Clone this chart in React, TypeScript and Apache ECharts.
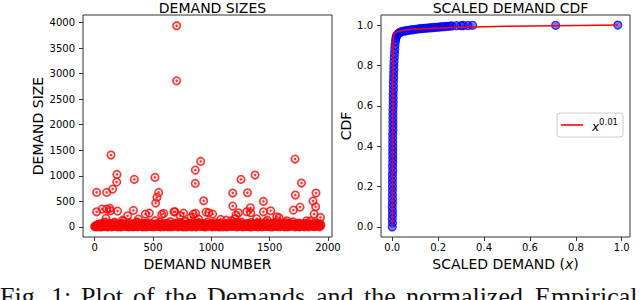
import React, { useEffect, useRef } from "react";
import * as echarts from "echarts";

// ---------- LEFT PANEL DATA ----------
// visible outliers [demand number, demand size]
const demandOutliers: [number, number][] = [
  [703, 3940], [703, 2860], [140, 1406], [191, 1027], [189, 876], [154, 739], [103, 674], [17, 674],
  [340, 929], [517, 968], [549, 674], [534, 576], [523, 464], [935, 510], [863, 1111], [863, 850], [909, 1282],
  [17, 294], [63, 347], [103, 347], [131, 360], [135, 314], [197, 308], [332, 321], [435, 249], [469, 268],
  [575, 243], [592, 262], [689, 294], [763, 268], [846, 249], [375, 151], [283, 216], [240, 131], [97, 164],
  [732, 216], [826, 184], [892, 151], [955, 288], [1718, 1327], [1773, 857], [1721, 622], [1761, 386],
  [1704, 327], [1375, 1014], [1255, 929], [1310, 667], [1184, 661], [1184, 406], [1447, 498], [1335, 373],
  [1304, 294], [1338, 275], [1232, 275], [1447, 294], [1509, 314], [1561, 196], [1581, 176], [1898, 661],
  [1872, 504], [1895, 392], [1881, 249], [1936, 184], [978, 275], [1012, 249], [1081, 145], [1203, 157],
  [1647, 118], [1818, 118], [1389, 157], [1481, 131], [1212, 229], [1129, 131], [866, 262], [680, 294],
];
// low demands, sampled every 10th demand number (0, 10, 20, ... 1940)
const lowDemandStep = 10;
const lowDemandsA: number[] = [
  5, 20, 0, 45, 10, 60, 2, 30, 85, 15,
  40, 0, 70, 25, 55, 8, 35, 90, 12, 48,
  0, 22, 65, 5, 38, 110, 18, 50, 3, 28,
  75, 10, 42, 0, 58, 20, 95, 6, 33, 52,
  14, 0, 68, 26, 44, 4, 80, 30, 12, 60,
  0, 35, 120, 18, 50, 7, 88, 24, 40, 2,
  62, 15, 30, 0, 45, 100, 20, 55, 9, 70,
  25, 40, 5, 85, 16, 58, 0, 36, 105, 22,
  48, 3, 66, 28, 12, 90, 40, 0, 54, 18,
  75, 30, 8, 46, 0, 62, 20, 95, 34, 10,
  56, 0, 38, 80, 14, 44, 4, 68, 26, 50,
  0, 32, 12, 58, 22, 6, 40, 115, 18, 64,
  28, 46, 0, 72, 35, 10, 90, 20, 52, 4,
  38, 66, 15, 0, 84, 30, 48, 8, 60, 24,
  0, 42, 78, 18, 55, 6, 34, 100, 14, 50,
  26, 0, 62, 40, 10, 88, 22, 46, 2, 70,
  32, 12, 56, 0, 80, 28, 44, 6, 64, 20,
  95, 36, 0, 52, 16, 74, 30, 8, 60, 42,
  0, 24, 68, 12, 48, 110, 20, 56, 4, 38,
  76, 18, 50, 0, 30,
];
// low demands at demand numbers 5, 15, 25, ... 1935
const lowDemandsB: number[] = [
  3, 28, 12, 50, 0, 36, 18, 62, 6, 40,
  22, 8, 54, 30, 0, 44, 14, 70, 26, 4,
  38, 16, 0, 58, 20, 46, 10, 32, 66, 0,
  24, 52, 6, 34, 14, 72, 2, 42, 18, 56,
  30, 10, 48, 0, 64, 22, 38, 6, 50, 16,
  42, 4, 28, 60, 12, 36, 0, 54, 20, 46,
  8, 34, 70, 16, 26, 0, 44, 12, 58, 30,
  50, 2, 38, 20, 64, 10, 28, 46, 0, 56,
  14, 40, 24, 0, 52, 32, 8, 68, 18, 44,
  26, 6, 58, 36, 14, 0, 48, 22, 40, 64,
  10, 30, 50, 4, 34, 18, 60, 0, 42, 24,
  54, 12, 36, 0, 46, 28, 66, 8, 38, 20,
  4, 56, 26, 44, 12, 62, 0, 34, 16, 50,
  22, 8, 48, 30, 0, 58, 14, 40, 26, 70,
  36, 10, 52, 0, 28, 44, 18, 64, 6, 32,
  48, 20, 0, 38, 60, 14, 30, 52, 10, 42,
  16, 66, 26, 8, 46, 0, 36, 58, 20, 28,
  44, 4, 62, 18, 34, 0, 50, 24, 12, 40,
  56, 14, 30, 0, 48, 22, 38, 8, 64, 26,
  10, 44, 20, 58,
];
const leftXTicks = [0, 500, 1000, 1500, 2000];
const leftYTicks = [0, 500, 1000, 1500, 2000, 2500, 3000, 3500, 4000];

// ---------- RIGHT PANEL DATA ----------
// empirical CDF points [scaled demand, cdf]
const cdfPoints: [number, number][] = [
  [0.000, 0.00], [0.001, 0.02], [0.000, 0.04], [0.001, 0.06], [0.001, 0.08], [0.000, 0.10], [0.001, 0.12],
  [0.001, 0.14], [0.001, 0.16], [0.001, 0.18], [0.001, 0.20], [0.001, 0.22], [0.001, 0.24], [0.001, 0.26],
  [0.002, 0.28], [0.001, 0.30], [0.002, 0.32], [0.002, 0.34], [0.002, 0.36], [0.002, 0.38], [0.002, 0.40],
  [0.002, 0.42], [0.002, 0.44], [0.002, 0.46], [0.003, 0.48], [0.003, 0.50], [0.003, 0.52], [0.003, 0.54],
  [0.003, 0.56], [0.003, 0.58], [0.004, 0.60], [0.004, 0.62], [0.004, 0.64], [0.004, 0.66], [0.005, 0.68],
  [0.005, 0.70], [0.005, 0.72], [0.006, 0.74], [0.006, 0.76], [0.007, 0.78], [0.007, 0.80], [0.008, 0.82],
  [0.009, 0.84], [0.010, 0.86], [0.011, 0.88], [0.012, 0.90], [0.014, 0.92], [0.016, 0.935], [0.018, 0.945],
  [0.022, 0.952], [0.026, 0.957], [0.03, 0.961], [0.035, 0.964], [0.04, 0.967], [0.05, 0.970], [0.06, 0.972],
  [0.07, 0.974], [0.08, 0.976], [0.09, 0.977], [0.10, 0.979], [0.11, 0.980], [0.12, 0.982], [0.13, 0.983],
  [0.14, 0.984], [0.15, 0.985], [0.16, 0.986], [0.17, 0.987], [0.18, 0.988], [0.19, 0.989], [0.20, 0.990],
  [0.21, 0.991], [0.22, 0.992], [0.23, 0.993], [0.24, 0.994], [0.25, 0.995], [0.26, 0.996], [0.28, 0.997],
  [0.30, 0.997], [0.31, 0.998], [0.33, 0.998], [0.35, 0.999], [0.712, 0.999], [0.983, 1.0],
];
// fitted curve x^0.01
const fitX = [0, 0.001, 0.003, 0.005, 0.007, 0.01, 0.02, 0.05, 0.1, 0.2, 0.3, 0.5, 0.712, 0.983];
const fitY = [0, 0.4, 0.8, 0.935, 0.952, 0.958, 0.966, 0.974, 0.980, 0.986, 0.989, 0.994, 0.997, 1.0];
const rightTicks = [0, 0.2, 0.4, 0.6, 0.8, 1.0];

const captionWords: [string, number][] = [
  ["Fig.", 0], ["1:", 51], ["Plot", 81], ["of", 133], ["the", 165], ["Demands", 207],
  ["and", 316], ["the", 364], ["normalized", 406], ["Empirical", 535],
];

const FONT = "DejaVu Sans";
const AX = "#333";

function axisCommon(ticks: number[], fmt: (v: number) => string, isX: boolean) {
  return {
    type: "value",
    axisLine: { show: false, onZero: false },
    axisTick: { show: true, length: 4, lineStyle: { color: AX, width: 1 }, customValues: ticks },
    axisLabel: {
      customValues: ticks,
      formatter: fmt,
      fontSize: 10,
      color: "#000",
      fontFamily: FONT,
      margin: isX ? 5 : 8,
    },
    splitLine: { show: false },
    nameLocation: "middle",
    nameTextStyle: { fontSize: 14, color: "#000", fontFamily: FONT },
  };
}

export default function App() {
  const ref = useRef<HTMLDivElement>(null);
  useEffect(() => {
    if (!ref.current) return;
    const chart = echarts.init(ref.current, null, { renderer: "svg" });
    const demandData: [number, number][] = [
      ...lowDemandsA.map((v, i) => [i * lowDemandStep, v] as [number, number]),
      ...lowDemandsB.map((v, i) => [5 + i * lowDemandStep, v] as [number, number]),
      ...demandOutliers,
    ];
    const fitData = fitX.map((x, i) => [x, fitY[i]]);
    const option: any = {
      animation: false,
      backgroundColor: "#fff",
      textStyle: { fontFamily: FONT },
      title: [
        { text: "DEMAND SIZES", left: 207.5, top: -4, textAlign: "center",
          textStyle: { fontSize: 14, fontWeight: "normal", color: "#000", fontFamily: FONT } },
        { text: "SCALED DEMAND CDF", left: 505.5, top: -4, textAlign: "center",
          textStyle: { fontSize: 14, fontWeight: "normal", color: "#000", fontFamily: FONT } },
      ],
      grid: [
        { left: 83, top: 15, width: 249, height: 222, show: true, borderColor: AX, borderWidth: 1, backgroundColor: "transparent" },
        { left: 381, top: 15, width: 249, height: 222, show: true, borderColor: AX, borderWidth: 1, backgroundColor: "transparent" },
      ],
      xAxis: [
        { ...axisCommon(leftXTicks, (v: number) => String(v), true), gridIndex: 0, min: -100, max: 2035,
          name: "DEMAND NUMBER", nameGap: 20 },
        { ...axisCommon(rightTicks, (v: number) => v.toFixed(1), true), gridIndex: 1, min: -0.049, max: 1.036,
          name: "SCALED DEMAND ({i|x})", nameGap: 20,
          nameTextStyle: { fontSize: 14, color: "#000", fontFamily: FONT,
            rich: { i: { fontStyle: "italic", fontSize: 14, color: "#000", fontFamily: FONT } } } },
      ],
      yAxis: [
        { ...axisCommon(leftYTicks, (v: number) => String(v), false), gridIndex: 0, min: -200, max: 4150,
          name: "DEMAND SIZE", nameGap: 38 },
        { ...axisCommon(rightTicks, (v: number) => v.toFixed(1), false), gridIndex: 1, min: -0.05, max: 1.05,
          name: "CDF", nameGap: 27 },
      ],
      legend: {
        data: [{ name: "fit", icon: "rect" }],
        left: 557, top: 113, orient: "vertical",
        padding: [4, 5, 4, 4],
        itemWidth: 22, itemHeight: 1.6,
        borderColor: "#ccc", borderWidth: 1, borderRadius: 3,
        backgroundColor: "#fff",
        formatter: () => "{x|x}{s|0.01}",
        textStyle: {
          padding: [0, 0, 0, 4],
          rich: {
            x: { fontStyle: "italic", fontSize: 12, color: "#000", fontFamily: FONT, verticalAlign: "bottom", lineHeight: 16 },
            s: { fontSize: 8.5, color: "#000", fontFamily: FONT, verticalAlign: "top", lineHeight: 16, padding: [0, 0, 4, 0] },
          },
        },
      },
      graphic: captionWords.map(([w, x]) => ({
        type: "text", left: x, top: 283, silent: true,
        style: { text: w, fontFamily: "Liberation Serif", fontSize: 26, fill: "#111" },
      })),
      series: [
        { type: "scatter", xAxisIndex: 0, yAxisIndex: 0, data: demandData, symbol: "circle", symbolSize: 7.5,
          itemStyle: { color: "rgba(255,0,0,0.12)", borderColor: "#ff0000", borderWidth: 1.6 } },
        { type: "scatter", xAxisIndex: 0, yAxisIndex: 0, data: demandData, symbol: "circle", symbolSize: 2.4,
          itemStyle: { color: "#ff0000" } },
        { type: "scatter", xAxisIndex: 1, yAxisIndex: 1, data: cdfPoints, symbol: "circle", symbolSize: 8,
          itemStyle: { color: "rgba(0,0,255,0.65)", borderColor: "#0000ff", borderWidth: 1.2 } },
        { name: "fit", type: "line", xAxisIndex: 1, yAxisIndex: 1, data: fitData, showSymbol: false, symbol: "none",
          lineStyle: { color: "#f00", width: 1.5 }, itemStyle: { color: "#f00" }, z: 5 },
      ],
    };
    chart.setOption(option);
    return () => chart.dispose();
  }, []);
  return <div ref={ref} style={{ position: "absolute", left: 0, top: 0, width: 640, height: 300 }} />;
}
